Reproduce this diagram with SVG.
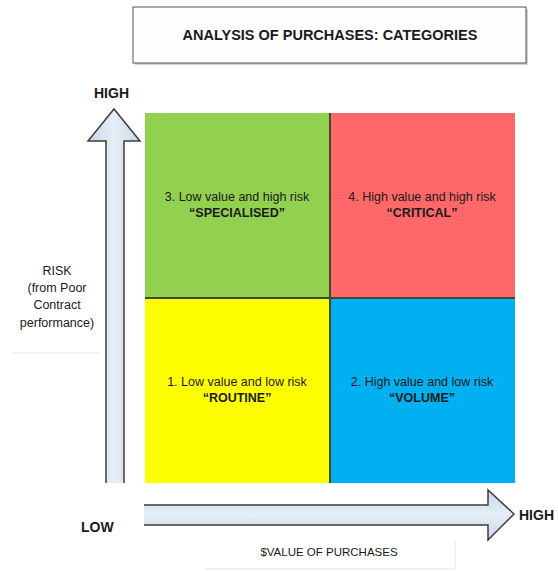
<svg xmlns="http://www.w3.org/2000/svg" width="558" height="571" viewBox="0 0 558 571">
<style>
text{font-family:"Liberation Sans","Open Sans",Arial,sans-serif;fill:#1a1a1a}
.b{font-weight:bold}
.q{font-size:12.5px;text-anchor:middle}
.r{font-size:12.5px;text-anchor:middle}
.ax{fill:url(#ag);stroke:#3c3c3c;stroke-width:1.5}
.axh{fill:url(#agh);stroke:#3c3c3c;stroke-width:1.5}
.div{stroke:#3f4a2a;stroke-width:2}
</style>
<defs>
<linearGradient id="ag" x1="0" y1="0" x2="1" y2="0">
<stop offset="0" stop-color="#c9d7e6"/><stop offset="0.5" stop-color="#e6eef6"/><stop offset="1" stop-color="#c9d7e6"/>
</linearGradient>
<linearGradient id="agh" x1="0" y1="0" x2="0" y2="1">
<stop offset="0" stop-color="#c9d7e6"/><stop offset="0.5" stop-color="#e6eef6"/><stop offset="1" stop-color="#c9d7e6"/>
</linearGradient>
</defs>
<rect width="558" height="571" fill="#fff"/>
<g id="title">
<rect x="135" y="9" width="393" height="56" fill="#cfcfcf"/>
<rect x="133" y="7" width="393" height="56" fill="#fefefe" stroke="#555" stroke-width="1"/>
<text x="330" y="40" class="b" font-size="14.5" text-anchor="middle">ANALYSIS OF PURCHASES: CATEGORIES</text>
</g>
<g id="quadrants">
<g id="q3"><rect x="145" y="113" width="185" height="185" fill="#92d050"/>
<text class="q" x="237" y="201">3. Low value and high risk</text>
<text class="q b" x="237" y="217">“SPECIALISED”</text></g>
<g id="q4"><rect x="330" y="113" width="185" height="185" fill="#ff6868"/>
<text class="q" x="422" y="201">4. High value and high risk</text>
<text class="q b" x="422" y="217">“CRITICAL”</text></g>
<g id="q1"><rect x="145" y="298" width="185" height="185" fill="#ffff00"/>
<text class="q" x="237" y="386">1. Low value and low risk</text>
<text class="q b" x="237" y="402">“ROUTINE”</text></g>
<g id="q2"><rect x="330" y="298" width="185" height="185" fill="#00b0f0"/>
<text class="q" x="422" y="386">2. High value and low risk</text>
<text class="q b" x="422" y="402">“VOLUME”</text></g>
<line class="div" x1="330" y1="113" x2="330" y2="483"/>
<line class="div" x1="145" y1="298" x2="515" y2="298"/>
</g>
<g id="connectors">
<path id="y-axis" class="ax" d="M106,483 L106,141 L88,141 L114,109 L140,141 L124,141 L124,483"/>
<path id="x-axis" class="axh" d="M144,505 L488,505 L488,490 L514,514 L488,540 L488,525 L144,525"/>
</g>
<g id="labels">
<text x="94" y="98" class="b" font-size="14">HIGH</text>
<text x="81" y="532" class="b" font-size="14">LOW</text>
<text x="519" y="520" class="b" font-size="14">HIGH</text>
</g>
<g id="risk-label">
<line x1="13" y1="353" x2="100" y2="353" stroke="#e2e2e2" stroke-width="1"/>
<text class="r" x="57" y="275">RISK</text>
<text class="r" x="57" y="292">(from Poor</text>
<text class="r" x="57" y="309">Contract</text>
<text class="r" x="57" y="327">performance)</text>
</g>
<g id="value-label">
<path d="M205,569 L455,569 L455,540" fill="none" stroke="#e2e2e2" stroke-width="1"/>
<text x="329" y="556" font-size="11.5" text-anchor="middle">$VALUE OF PURCHASES</text>
</g>
</svg>
